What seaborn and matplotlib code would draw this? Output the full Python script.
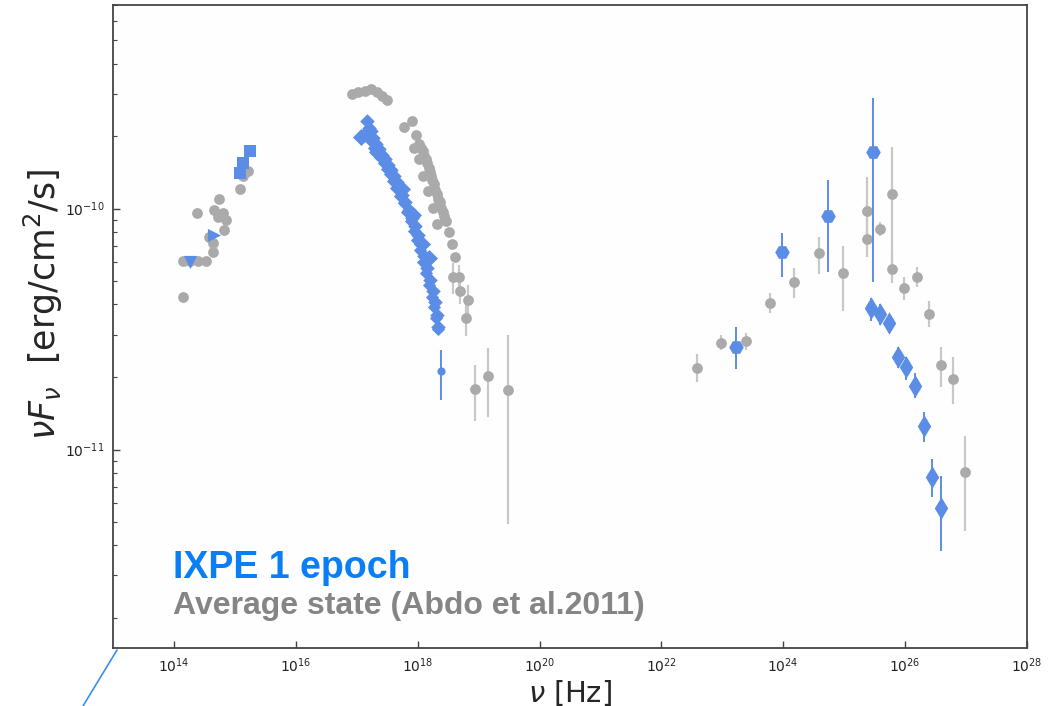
import numpy as np
import pandas as pd
import matplotlib
matplotlib.use("Agg")
import matplotlib.pyplot as plt
import matplotlib.ticker as mticker
from matplotlib.lines import Line2D
import seaborn as sns

# ---------------- data ----------------
# IXPE epoch (blue)
opt_tri_down_nu = [1.86e14]
opt_tri_down_f = [6.0e-11]
opt_tri_right_nu = [4.57e14]
opt_tri_right_f = [7.8e-11]
uv_sq_nu = [1.23e15, 1.38e15, 1.74e15]
uv_sq_f = [1.41e-10, 1.55e-10, 1.74e-10]

xray_nu = [1.45e17, 1.58e17, 1.70e17, 1.82e17, 2.04e17, 2.29e17, 2.57e17, 2.88e17,
           3.24e17, 3.63e17, 4.07e17, 4.57e17, 5.01e17, 5.62e17, 6.31e17, 7.08e17,
           7.94e17, 8.91e17, 1.00e18, 1.12e18, 1.26e18, 1.41e18, 1.58e18, 1.78e18,
           1.91e18, 2.04e18, 2.19e18]
xray_f = [2.30e-10, 2.17e-10, 2.09e-10, 1.97e-10, 1.85e-10, 1.76e-10, 1.67e-10, 1.60e-10,
          1.52e-10, 1.45e-10, 1.37e-10, 1.29e-10, 1.22e-10, 1.14e-10, 1.07e-10, 9.9e-11,
          9.18e-11, 8.49e-11, 7.80e-11, 7.10e-11, 6.38e-11, 5.69e-11, 5.07e-11, 4.53e-11,
          4.11e-11, 3.63e-11, 3.21e-11]
xray2_nu = [1.38e17, 1.66e17, 1.95e17, 2.40e17, 2.75e17, 3.10e17, 3.47e17, 3.98e17,
            4.47e17, 5.13e17, 5.89e17, 6.76e17, 7.76e17, 8.71e17, 9.77e17, 1.10e18,
            1.23e18, 1.35e18, 1.51e18, 1.70e18, 1.86e18, 2.00e18, 2.14e18]
xray2_f = [2.05e-10, 1.92e-10, 1.78e-10, 1.64e-10, 1.55e-10, 1.46e-10, 1.39e-10, 1.30e-10,
           1.22e-10, 1.13e-10, 1.05e-10, 9.7e-11, 8.9e-11, 8.1e-11, 7.4e-11, 6.7e-11,
           6.0e-11, 5.4e-11, 4.8e-11, 4.3e-11, 3.9e-11, 3.5e-11, 3.15e-11]
xray_big_nu = [1.17e17, 2.19e17, 5.50e17, 8.32e17, 1.17e18, 1.51e18]
xray_big_f = [1.99e-10, 1.71e-10, 1.21e-10, 9.44e-11, 7.10e-11, 6.21e-11]

hx_nu = [2.40e18]
hx_f = [2.11e-11]
hx_lo = [1.61e-11]
hx_hi = [2.60e-11]

lat_nu = [1.70e23, 9.55e23, 5.50e24, 2.99e25]
lat_f = [2.67e-11, 6.63e-11, 9.35e-11, 1.71e-10]
lat_lo = [2.15e-11, 5.22e-11, 5.48e-11, 4.98e-11]
lat_hi = [3.21e-11, 7.95e-11, 1.32e-10, 2.89e-10]

vhe_nu = [2.77e25, 3.89e25, 5.47e25, 7.67e25, 1.04e26, 1.46e26, 2.05e26, 2.77e26, 3.89e26]
vhe_f = [3.85e-11, 3.66e-11, 3.36e-11, 2.41e-11, 2.19e-11, 1.84e-11, 1.25e-11, 7.72e-12, 5.74e-12]
vhe_lo = [3.40e-11, 3.30e-11, 3.05e-11, 2.17e-11, 1.95e-11, 1.63e-11, 1.07e-11, 6.33e-12, 3.78e-12]
vhe_hi = [4.27e-11, 4.00e-11, 3.63e-11, 2.67e-11, 2.43e-11, 2.07e-11, 1.43e-11, 9.10e-12, 7.80e-12]

# Average state (gray)
avg_opt_nu = [1.41e14, 1.41e14, 1.83e14, 2.47e14, 3.35e14, 2.38e14, 5.47e14, 4.35e14, 4.35e14,
              3.75e14, 4.53e14, 6.35e14, 5.26e14, 7.11e14, 6.61e14, 1.21e15, 1.63e15, 1.35e15]
avg_opt_f = [4.31e-11, 6.08e-11, 6.08e-11, 6.08e-11, 6.08e-11, 9.62e-11, 1.10e-10, 6.63e-11, 7.23e-11,
             7.59e-11, 9.91e-11, 9.62e-11, 9.27e-11, 9.00e-11, 8.18e-11, 1.21e-10, 1.43e-10, 1.36e-10]
avg_uv_nu = [8.28e16, 1.04e17, 1.35e17, 1.70e17, 2.13e17, 2.57e17, 3.10e17]
avg_uv_f = [3.00e-10, 3.06e-10, 3.09e-10, 3.15e-10, 3.06e-10, 2.94e-10, 2.81e-10]
avg_x_nu = [5.89e17, 7.98e17, 9.28e17, 1.04e18, 1.21e18, 1.35e18, 1.51e18, 1.63e18, 1.83e18,
            2.05e18, 2.29e18, 2.57e18, 2.88e18, 3.22e18, 3.61e18, 4.04e18,
            8.59e17, 1.04e18, 1.21e18, 1.46e18, 1.76e18, 2.05e18,
            1.12e18, 1.28e18, 1.42e18, 1.57e18, 1.73e18, 1.95e18, 2.18e18, 2.43e18, 2.72e18]
avg_x_f = [2.19e-10, 2.30e-10, 2.03e-10, 1.85e-10, 1.73e-10, 1.60e-10, 1.48e-10, 1.37e-10, 1.26e-10,
           1.15e-10, 1.06e-10, 9.72e-11, 8.92e-11, 8.03e-11, 7.10e-11, 6.27e-11,
           1.79e-10, 1.60e-10, 1.36e-10, 1.18e-10, 1.01e-10, 8.59e-11,
           1.78e-10, 1.66e-10, 1.54e-10, 1.42e-10, 1.31e-10, 1.20e-10, 1.10e-10, 1.01e-10, 9.3e-11]
avg_xe_nu = [3.75e18, 4.70e18, 4.89e18, 6.61e18, 6.12e18, 8.59e18, 1.41e19, 2.99e19]
avg_xe_f = [5.22e-11, 5.22e-11, 4.53e-11, 4.19e-11, 3.53e-11, 1.79e-11, 2.01e-11, 1.76e-11]
avg_xe_lo = [4.40e-11, 4.62e-11, 4.00e-11, 3.63e-11, 2.97e-11, 1.31e-11, 1.37e-11, 4.89e-12]
avg_xe_hi = [5.97e-11, 5.86e-11, 5.07e-11, 4.84e-11, 4.19e-11, 2.25e-11, 2.65e-11, 3.00e-11]
avg_g_nu = [3.89e22, 9.64e22, 2.47e23, 6.12e23, 1.51e24, 3.89e24, 9.63e24, 2.38e25, 2.38e25,
            3.89e25, 6.12e25, 6.12e25, 9.64e25, 1.57e26, 2.47e26, 3.89e26, 6.12e26, 9.64e26]
avg_g_f = [2.17e-11, 2.78e-11, 2.83e-11, 4.07e-11, 4.98e-11, 6.56e-11, 5.42e-11, 9.81e-11, 7.51e-11,
           8.26e-11, 1.15e-10, 5.64e-11, 4.66e-11, 5.22e-11, 3.66e-11, 2.25e-11, 1.97e-11, 8.04e-12]
avg_g_lo = [1.90e-11, 2.60e-11, 2.60e-11, 3.70e-11, 4.27e-11, 5.37e-11, 3.77e-11, 7.10e-11, 6.27e-11,
            7.73e-11, 5.86e-11, 4.93e-11, 4.19e-11, 4.74e-11, 3.21e-11, 1.81e-11, 1.54e-11, 4.57e-12]
avg_g_hi = [2.48e-11, 3.00e-11, 3.05e-11, 4.48e-11, 5.69e-11, 7.65e-11, 7.02e-11, 1.35e-10, 9.18e-11,
            8.83e-11, 1.81e-10, 6.56e-11, 5.18e-11, 5.74e-11, 4.15e-11, 2.67e-11, 2.41e-11, 1.14e-11]

x_ticks = [1e14, 1e16, 1e18, 1e20, 1e22, 1e24, 1e26, 1e28]

BLUE = "#5b8de6"
GRAY = "#aaaaaa"
GRAY_ERR = "#c8c8c8"

sns.set_style("white")
plt.rcParams["font.family"] = ["DejaVu Sans"]

fig = plt.figure(figsize=(10.51, 7.06), dpi=100)
ax = fig.add_axes([113 / 1051, 1 - 648 / 706, (1027 - 113) / 1051, (648 - 5) / 706])
ax.set_facecolor("#fefefe")


def errs(f, lo, hi):
    f = np.asarray(f); lo = np.asarray(lo); hi = np.asarray(hi)
    return np.vstack([f - lo, hi - f])


# gray error bars
ax.errorbar(avg_xe_nu, avg_xe_f, yerr=errs(avg_xe_f, avg_xe_lo, avg_xe_hi), fmt="none",
            ecolor=GRAY_ERR, elinewidth=1.6, zorder=1)
ax.errorbar(avg_g_nu, avg_g_f, yerr=errs(avg_g_f, avg_g_lo, avg_g_hi), fmt="none",
            ecolor=GRAY_ERR, elinewidth=1.6, zorder=1)

gray_df = pd.DataFrame({
    "nu": avg_opt_nu + avg_uv_nu + avg_x_nu + avg_xe_nu + avg_g_nu,
    "f": avg_opt_f + avg_uv_f + avg_x_f + avg_xe_f + avg_g_f,
})
sns.scatterplot(data=gray_df, x="nu", y="f", ax=ax, color=GRAY, marker="o", s=60,
                linewidth=0, zorder=2, legend=False)

# blue error bars
ax.errorbar(hx_nu, hx_f, yerr=errs(hx_f, hx_lo, hx_hi), fmt="none", ecolor=BLUE,
            elinewidth=1.4, zorder=3)
ax.errorbar(lat_nu, lat_f, yerr=errs(lat_f, lat_lo, lat_hi), fmt="none", ecolor=BLUE,
            elinewidth=1.4, zorder=3)
ax.errorbar(vhe_nu, vhe_f, yerr=errs(vhe_f, vhe_lo, vhe_hi), fmt="none", ecolor=BLUE,
            elinewidth=1.4, zorder=3)

def blue_scatter(nu, f, marker, s):
    df = pd.DataFrame({"nu": nu, "f": f})
    sns.scatterplot(data=df, x="nu", y="f", ax=ax, color=BLUE, marker=marker, s=s,
                    linewidth=0, zorder=4, legend=False)

blue_scatter(opt_tri_down_nu, opt_tri_down_f, "v", 90)
blue_scatter(opt_tri_right_nu, opt_tri_right_f, ">", 90)
blue_scatter(uv_sq_nu, uv_sq_f, "s", 85)
blue_scatter(xray_nu, xray_f, "D", 55)
blue_scatter(xray2_nu, xray2_f, "D", 45)
blue_scatter(xray_big_nu, xray_big_f, "D", 75)
blue_scatter(hx_nu, hx_f, "o", 35)
blue_scatter(lat_nu, lat_f, "H", 110)
blue_scatter(vhe_nu, vhe_f, "d", 130)

ax.set_xscale("log")
ax.set_yscale("log")
ax.set_xlim(1e13, 1e28)
ax.set_ylim(1.5e-12, 7.0e-10)
ax.set_xticks(x_ticks)
ax.xaxis.set_minor_locator(mticker.NullLocator())
ax.tick_params(axis="both", which="major", direction="in", length=5, width=1,
               labelsize=10, colors="#444444", labelcolor="#222222", pad=6)
ax.tick_params(axis="y", which="minor", direction="in", length=3, width=0.8,
               colors="#444444", left=True)
ax.tick_params(axis="x", which="major", bottom=True, top=False)
ax.tick_params(axis="y", which="both", left=True, right=False)

for sp in ax.spines.values():
    sp.set_color("#444444")
    sp.set_linewidth(1.3)

ax.set_xlabel(r"$\nu$ [Hz]", fontsize=21, labelpad=2)
ax.set_ylabel(r"$\nu F_\nu$  [erg/cm$^2$/s]", fontsize=25)
ax.yaxis.set_label_coords(-0.052, 0.535)

lib = {"family": ["Liberation Sans", "DejaVu Sans"], "weight": "bold"}
fig.text(173 / 1051, 1 - 578 / 706, "IXPE 1 epoch", color="#0a7ff5", fontsize=27,
         ha="left", va="baseline", **lib)
fig.text(173 / 1051, 1 - 614 / 706, "Average state (Abdo et al.2011)", color="#858585",
         fontsize=23, ha="left", va="baseline", **lib)

fig.add_artist(Line2D([117 / 1051, 83 / 1051], [1 - 650 / 706, 0.0],
                      transform=fig.transFigure, color="#3a8ef0", linewidth=1.2))

fig.savefig("out.png", dpi=100)
